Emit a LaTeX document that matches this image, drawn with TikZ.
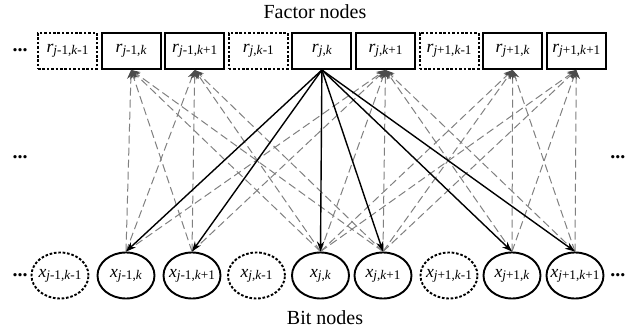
\documentclass[tikz,border=0pt]{standalone}
\usepackage{fontspec}
\setmainfont{Liberation Serif}
\usetikzlibrary{shapes.geometric,arrows.meta}
% italic symbol with a lowered index set almost at full size
\newcommand\nlab[2]{\textit{#1}\raisebox{-0.28ex}{\fontsize{6.6}{8}\selectfont #2}}
\newcommand\idj{\textit{j}}
\newcommand\idk{\textit{k}}
\begin{document}
\begin{tikzpicture}[x=0.5pt,y=-0.5pt,
  factor/.style={draw,line width=0.95pt,minimum width=29.5pt,minimum height=18pt,inner xsep=-3pt,inner ysep=0pt,font=\fontsize{8.8}{11}\selectfont},
  ghostfactor/.style={factor,dash pattern=on 1.3pt off 0.9pt},
  bit/.style={ellipse,draw,line width=0.95pt,minimum width=28.5pt,minimum height=23pt,inner xsep=-4pt,inner ysep=0pt,font=\fontsize{8.8}{11}\selectfont},
  ghostbit/.style={bit,dash pattern=on 1.3pt off 0.9pt},
  fwd/.style={-{Stealth[length=5pt,width=3.6pt]},line width=0.7pt,black},
  back/.style={-{Stealth[length=4.5pt,width=3.8pt,color=black!70]},line width=0.5pt,black!50,dash pattern=on 4pt off 2pt},
  dots/.style={font=\fontsize{10}{12}\selectfont\bfseries,inner sep=0pt},
  caption/.style={font=\fontsize{10}{12}\selectfont,inner sep=0pt}
]
\useasboundingbox (0,0) rectangle (629,332);

% factor row
\node[ghostfactor] (r0) at (67.5,51) {\nlab{r}{\idj-1,\idk-1}};
\node[factor]      (r1) at (131.1,51) {\nlab{r}{\idj-1,\idk}};
\node[factor]      (r2) at (194.7,51) {\nlab{r}{\idj-1,\idk+1}};
\node[ghostfactor] (r3) at (258.3,51) {\nlab{r}{\idj,\idk-1}};
\node[factor]      (r4) at (321.9,51) {\nlab{r}{\idj,\idk}};
\node[factor]      (r5) at (385.5,51) {\nlab{r}{\idj,\idk+1}};
\node[ghostfactor] (r6) at (449.1,51) {\nlab{r}{\idj+1,\idk-1}};
\node[factor]      (r7) at (512.7,51) {\nlab{r}{\idj+1,\idk}};
\node[factor]      (r8) at (576.3,51) {\nlab{r}{\idj+1,\idk+1}};

% bit row
\node[ghostbit] (b0) at (60,275.5) {\nlab{x}{\idj-1,\idk-1}};
\node[bit]      (b1) at (126,275.5) {\nlab{x}{\idj-1,\idk}};
\node[bit]      (b2) at (192,275.5) {\nlab{x}{\idj-1,\idk+1}};
\node[ghostbit] (b3) at (256.5,275.5) {\nlab{x}{\idj,\idk-1}};
\node[bit]      (b4) at (320.5,275.5) {\nlab{x}{\idj,\idk}};
\node[bit]      (b5) at (383,275.5) {\nlab{x}{\idj,\idk+1}};
\node[ghostbit] (b6) at (449,275.5) {\nlab{x}{\idj+1,\idk-1}};
\node[bit]      (b7) at (512,275.5) {\nlab{x}{\idj+1,\idk}};
\node[bit]      (b8) at (575,275.5) {\nlab{x}{\idj+1,\idk+1}};

% continuation marks
\node[dots] (dl1) at (20,50) {...};
\node[dots] (dl2) at (20,157) {...};
\node[dots] (dl3) at (20,275) {...};
\node[dots] (dr2) at (618,157) {...};
\node[dots] (dr3) at (618,275) {...};

% captions
\node[caption] (top) at (315,12) {Factor nodes};
\node[caption] (bot) at (325,318) {Bit nodes};

% messages from bits to the neighbouring factors
\foreach \f/\bl in {1/{1,2,4,5},2/{1,2,4,5},5/{1,2,4,5,7,8},7/{4,5,7,8},8/{4,5,7,8}}{
  \foreach \b in \bl {
    \draw[back] (b\b.north) -- (r\f.south);
  }
}

% messages from the central factor
\foreach \b in {1,2,4,5,7,8}{
  \draw[fwd] (r4.south) -- (b\b.north);
}
\end{tikzpicture}
\end{document}
